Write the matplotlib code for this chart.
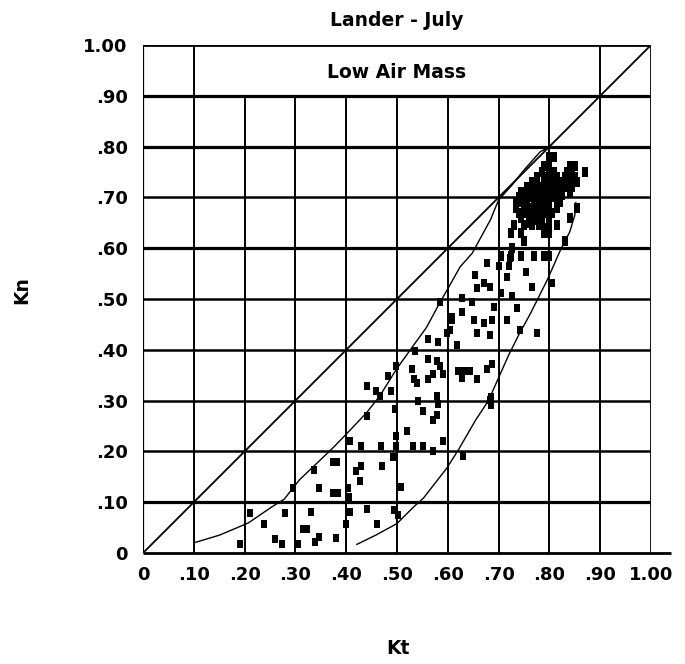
import matplotlib
matplotlib.use("Agg")
import matplotlib.pyplot as plt

# ---------------- data ----------------
# scattered observations (Kt, Kn)
scatter_kt = [
    0.190, 0.210, 0.239, 0.259, 0.274, 0.280, 0.305, 0.315, 0.322, 0.330, 0.338, 0.347,
    0.380, 0.400, 0.407, 0.440, 0.460, 0.495, 0.502,
    0.296, 0.337, 0.347, 0.374, 0.382, 0.374, 0.384, 0.403, 0.406, 0.420, 0.428, 0.430,
    0.471, 0.508, 0.493, 0.629,
    0.407, 0.430, 0.440, 0.469, 0.499, 0.499, 0.519, 0.532, 0.552, 0.571, 0.590, 0.496,
    0.542, 0.552, 0.571, 0.578, 0.580, 0.686, 0.686,
    0.466, 0.440, 0.459, 0.489, 0.482, 0.499, 0.535, 0.561, 0.578, 0.585, 0.529, 0.591,
    0.533, 0.540, 0.561, 0.571, 0.578, 0.621, 0.631, 0.644, 0.627, 0.657, 0.677, 0.687,
    0.683,
    0.585, 0.561, 0.581, 0.598, 0.608, 0.605, 0.618, 0.627, 0.647, 0.651, 0.657, 0.671,
    0.684, 0.687, 0.690, 0.717, 0.736, 0.743, 0.776, 0.609,
    0.628, 0.648, 0.654, 0.657, 0.671, 0.684, 0.677, 0.700, 0.704, 0.704, 0.717, 0.720,
    0.723, 0.727, 0.753, 0.766, 0.805,
]
scatter_kn = [
    0.017, 0.078, 0.057, 0.028, 0.017, 0.078, 0.017, 0.048, 0.048, 0.080, 0.022, 0.032,
    0.030, 0.058, 0.080, 0.086, 0.058, 0.085, 0.075,
    0.128, 0.163, 0.128, 0.180, 0.180, 0.119, 0.119, 0.128, 0.111, 0.162, 0.141, 0.171,
    0.171, 0.130, 0.188, 0.190,
    0.220, 0.210, 0.269, 0.210, 0.210, 0.230, 0.240, 0.210, 0.210, 0.200, 0.220, 0.283,
    0.299, 0.279, 0.262, 0.272, 0.293, 0.308, 0.292,
    0.309, 0.329, 0.319, 0.319, 0.349, 0.368, 0.398, 0.382, 0.378, 0.368, 0.362, 0.352,
    0.342, 0.335, 0.342, 0.352, 0.309, 0.358, 0.358, 0.358, 0.345, 0.342, 0.362, 0.372,
    0.302,
    0.494, 0.421, 0.415, 0.434, 0.464, 0.439, 0.410, 0.474, 0.494, 0.459, 0.434, 0.452,
    0.429, 0.459, 0.484, 0.459, 0.482, 0.439, 0.433, 0.459,
    0.501, 0.495, 0.547, 0.521, 0.531, 0.524, 0.570, 0.564, 0.511, 0.583, 0.544, 0.564,
    0.580, 0.505, 0.554, 0.524, 0.531,
]

# dense cluster of observations near Kt 0.78, Kn 0.70
cluster_kt = [
    0.800, 0.810,
    0.790, 0.800, 0.840, 0.850,
    0.785, 0.800, 0.810, 0.835, 0.845, 0.870,
    0.775, 0.790, 0.800, 0.815, 0.830, 0.850,
    0.765, 0.775, 0.790, 0.800, 0.810, 0.825, 0.840, 0.855,
    0.755, 0.765, 0.780, 0.790, 0.800, 0.815, 0.830, 0.845,
    0.745, 0.757, 0.770, 0.780, 0.790, 0.800, 0.810, 0.820, 0.840,
    0.740, 0.750, 0.760, 0.775, 0.785, 0.795, 0.810, 0.820,
    0.735, 0.745, 0.755, 0.770, 0.780, 0.790, 0.800, 0.815,
    0.735, 0.750, 0.760, 0.775, 0.790, 0.800, 0.815, 0.855,
    0.740, 0.755, 0.765, 0.780, 0.795, 0.805,
    0.745, 0.760, 0.775, 0.785, 0.800, 0.840,
    0.730, 0.750, 0.765, 0.780, 0.800, 0.815,
    0.725, 0.745, 0.790, 0.800,
    0.750, 0.830,
    0.727,
    0.705, 0.725, 0.745, 0.770, 0.790, 0.800,
    0.770, 0.785, 0.765, 0.750, 0.770, 0.760, 0.785, 0.770, 0.820, 0.825, 0.760, 0.790,
]
cluster_kn = [
    0.780, 0.780,
    0.762, 0.762, 0.762, 0.762,
    0.750, 0.750, 0.750, 0.750, 0.750, 0.750,
    0.740, 0.740, 0.740, 0.740, 0.740, 0.740,
    0.730, 0.730, 0.730, 0.730, 0.730, 0.730, 0.730, 0.730,
    0.720, 0.720, 0.720, 0.720, 0.720, 0.720, 0.720, 0.720,
    0.710, 0.710, 0.710, 0.710, 0.710, 0.710, 0.710, 0.710, 0.710,
    0.700, 0.700, 0.700, 0.700, 0.700, 0.700, 0.700, 0.700,
    0.690, 0.690, 0.690, 0.690, 0.690, 0.690, 0.690, 0.690,
    0.680, 0.680, 0.680, 0.680, 0.680, 0.680, 0.680, 0.680,
    0.670, 0.670, 0.670, 0.670, 0.670, 0.670,
    0.660, 0.660, 0.660, 0.660, 0.660, 0.660,
    0.645, 0.645, 0.645, 0.645, 0.645, 0.645,
    0.630, 0.630, 0.630, 0.630,
    0.615, 0.615,
    0.600,
    0.585, 0.585, 0.585, 0.585, 0.585, 0.585,
    0.725, 0.715, 0.705, 0.695, 0.685, 0.675, 0.675, 0.655, 0.690, 0.705, 0.650, 0.640,
]

# envelope curves
upper_kt = [0.100, 0.150, 0.207, 0.254, 0.278, 0.308, 0.374, 0.403, 0.440, 0.466, 0.499,
            0.532, 0.558, 0.585, 0.600, 0.624, 0.648, 0.684, 0.700, 0.727, 0.750, 0.782, 0.792]
upper_kn = [0.020, 0.035, 0.059, 0.091, 0.106, 0.144, 0.207, 0.237, 0.276, 0.309, 0.362,
            0.408, 0.444, 0.494, 0.520, 0.563, 0.590, 0.656, 0.695, 0.725, 0.754, 0.790, 0.795]
lower_kt = [0.421, 0.458, 0.500, 0.533, 0.552, 0.598, 0.622, 0.655, 0.680, 0.700, 0.720,
            0.740, 0.763, 0.796, 0.822, 0.840, 0.850, 0.852]
lower_kn = [0.017, 0.035, 0.058, 0.091, 0.108, 0.167, 0.205, 0.262, 0.300, 0.345, 0.390,
            0.430, 0.472, 0.538, 0.597, 0.632, 0.665, 0.690]

# line Kn = Kt
diag = [0.0, 1.0]

x_ticks = [0.0, 0.1, 0.2, 0.3, 0.4, 0.5, 0.6, 0.7, 0.8, 0.9, 1.0]
x_labels = ["0", ".10", ".20", ".30", ".40", ".50", ".60", ".70", ".80", ".90", "1.00"]
y_ticks = [0.0, 0.1, 0.2, 0.3, 0.4, 0.5, 0.6, 0.7, 0.8, 0.9, 1.0]
y_labels = ["0", ".10", ".20", ".30", ".40", ".50", ".60", ".70", ".80", ".90", "1.00"]

title = "Lander - July"
box_label = "Low Air Mass"

# ---------------- figure ----------------
plt.rcParams["font.family"] = ["DejaVu Sans"]
W, H = 685, 664
fig = plt.figure(figsize=(W / 100, H / 100), dpi=100)
ax = fig.add_axes([143 / W, 1 - 553 / H, 508 / W, 508 / H])
ax.set_xlim(0, 1)
ax.set_ylim(0, 1)
for s in ax.spines.values():
    s.set_visible(False)

k = "black"
# horizontal grid lines
thick_rows = {1, 6, 8, 9}
for i, y in enumerate(y_ticks[1:-1], start=1):
    ax.hlines(y, x_ticks[0], x_ticks[-1], color=k, lw=2.3 if i in thick_rows else 1.8, zorder=1)
# vertical grid lines (only .10 and .90 reach the top row)
for i, x in enumerate(x_ticks[1:-1], start=1):
    top = y_ticks[-1] if i in (1, 9) else y_ticks[-2]
    ax.vlines(x, y_ticks[0], top, color=k, lw=1.4, zorder=1)
# frame
ax.vlines(x_ticks[0], y_ticks[0], y_ticks[-1], color=k, lw=1.6, zorder=1)
ax.vlines(x_ticks[-1], y_ticks[0], y_ticks[-1], color=k, lw=1.3, zorder=1)
ax.hlines(y_ticks[-1], x_ticks[0], x_ticks[-1], color=k, lw=2.0, zorder=1)
ax.hlines(y_ticks[0], x_ticks[0], 1.04, color=k, lw=2.0, zorder=1, clip_on=False)

# diagonal and envelopes
ax.plot(diag, diag, color=k, lw=1.3, zorder=2)
ax.plot(upper_kt, upper_kn, color=k, lw=1.0, zorder=2)
ax.plot(lower_kt, lower_kn, color=k, lw=1.0, zorder=2)

# observations
rect = [(-0.35, -0.5), (0.35, -0.5), (0.35, 0.5), (-0.35, 0.5), (-0.35, -0.5)]
ax.scatter(scatter_kt, scatter_kn, marker=rect, s=38, c=k, linewidths=0, zorder=3)
ax.scatter(cluster_kt, cluster_kn, marker=rect, s=42, c=k, linewidths=0, zorder=3)

# box label
ax.text(0.5, 0.945, box_label, ha="center", va="center", fontsize=13.5, fontweight="bold")

# ticks
ax.set_xticks(x_ticks, x_labels)
ax.set_yticks(y_ticks, y_labels)
ax.tick_params(axis="x", length=0, pad=9, labelsize=13)
ax.tick_params(axis="y", length=0, pad=11, labelsize=13)
for lbl in ax.get_xticklabels() + ax.get_yticklabels():
    lbl.set_fontweight("bold")

# titles / axis labels
fig.text(397 / W, 1 - 20 / H, title, ha="center", va="center", fontsize=13.5, fontweight="bold")
fig.text(398 / W, 1 - 649 / H, "Kt", ha="center", va="center", fontsize=13.5, fontweight="bold")
fig.text(22 / W, 1 - 290 / H, "Kn", ha="center", va="center", rotation=90, fontsize=13.5,
         fontweight="bold")

fig.savefig("out.png", dpi=100, facecolor="white")
